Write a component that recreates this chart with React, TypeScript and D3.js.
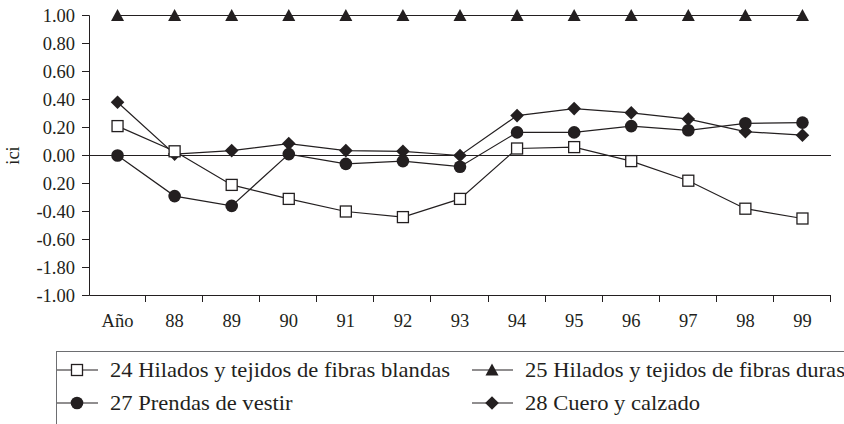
import React from 'react';
import * as d3 from 'd3';

// categories on the x axis
const years = ['Año', '88', '89', '90', '91', '92', '93', '94', '95', '96', '97', '98', '99'];

// series values (ici)
const fibrasBlandas = [0.21, 0.03, -0.21, -0.31, -0.40, -0.44, -0.31, 0.05, 0.06, -0.04, -0.18, -0.38, -0.45];
const fibrasDuras = [1.00, 1.00, 1.00, 1.00, 1.00, 1.00, 1.00, 1.00, 1.00, 1.00, 1.00, 1.00, 1.00];
const prendas = [0.00, -0.29, -0.36, 0.01, -0.06, -0.04, -0.08, 0.165, 0.165, 0.21, 0.18, 0.23, 0.235];
const cuero = [0.38, 0.01, 0.035, 0.085, 0.035, 0.03, 0.00, 0.285, 0.335, 0.305, 0.26, 0.17, 0.145];

// y ticks and their printed labels (as in the original figure)
const yTickValues = [1.0, 0.8, 0.6, 0.4, 0.2, 0.0, -0.2, -0.4, -0.6, -0.8, -1.0];
const yTickLabels = ['1.00', '0.80', '0.60', '0.40', '0.20', '0.00', '0.20', '-0.40', '-0.60', '-1.80', '-1.00'];

const seriesNames = [
  '24 Hilados y tejidos de fibras blandas',
  '25 Hilados y tejidos de fibras duras',
  '27 Prendas de vestir',
  '28 Cuero y calzado',
];

const ink = '#231f20';
const font = "'Liberation Serif', 'Times New Roman', Times, serif";

type Shape = 'square' | 'triangle' | 'circle' | 'diamond';

const Marker = ({ shape, x, y }: { shape: Shape; x: number; y: number }) => {
  if (shape === 'square')
    return <rect x={x - 5.5} y={y - 5.5} width={11} height={11} fill="#fff" stroke={ink} strokeWidth={1.3} />;
  if (shape === 'circle') return <circle cx={x} cy={y} r={6.3} fill={ink} />;
  if (shape === 'triangle')
    return <path d={`M${x},${y - 6.5}L${x + 6.5},${y + 5.5}L${x - 6.5},${y + 5.5}Z`} fill={ink} />;
  return <path d={`M${x},${y - 6.8}L${x + 6.8},${y}L${x},${y + 6.8}L${x - 6.8},${y}Z`} fill={ink} />;
};

const App = () => {
  const width = 844, height = 424;

  const x = d3.scaleBand<string>().domain(years).range([89, 831]).padding(0);
  const y = d3.scaleLinear().domain([-1, 1]).range([295.5, 15.5]);
  const cx = (d: string) => (x(d) as number) + x.bandwidth() / 2;

  const line = d3
    .line<number>()
    .x((_, i) => cx(years[i]))
    .y((v) => y(v));

  // draw order: later ones sit on top
  const series: { values: number[]; shape: Shape }[] = [
    { values: cuero, shape: 'diamond' },
    { values: prendas, shape: 'circle' },
    { values: fibrasDuras, shape: 'triangle' },
    { values: fibrasBlandas, shape: 'square' },
  ];

  const legend: { name: string; shape: Shape; lx: number; ly: number }[] = [
    { name: seriesNames[0], shape: 'square', lx: 77, ly: 370 },
    { name: seriesNames[1], shape: 'triangle', lx: 492, ly: 370 },
    { name: seriesNames[2], shape: 'circle', lx: 77, ly: 403 },
    { name: seriesNames[3], shape: 'diamond', lx: 492, ly: 403 },
  ];

  return (
    <svg
      width={width}
      height={height}
      style={{ position: 'absolute', left: 0, top: 0, background: '#fff', fontFamily: font }}
    >
      {/* y axis */}
      <line x1={89.5} x2={89.5} y1={y(1)} y2={295.5} stroke={ink} />
      {yTickValues.map((v, i) => (
        <g key={i}>
          <line x1={82} x2={89.5} y1={y(v)} y2={y(v)} stroke={ink} />
          <text x={75} y={y(v)} dy="0.33em" textAnchor="end" fontSize={18.5} fill={ink}>
            {yTickLabels[i]}
          </text>
        </g>
      ))}
      <text
        transform={`translate(19,${y(0)}) rotate(-90)`}
        textAnchor="middle"
        fontSize={18.5}
        fill={ink}
      >
        ici
      </text>

      {/* x axis */}
      <line x1={89.5} x2={831} y1={295.5} y2={295.5} stroke={ink} />
      {years.map((d) => (
        <g key={d}>
          <line
            x1={Math.round((x(d) as number) + x.bandwidth()) - 0.5}
            x2={Math.round((x(d) as number) + x.bandwidth()) - 0.5}
            y1={295.5}
            y2={302}
            stroke={ink}
          />
          <text x={cx(d)} y={327} textAnchor="middle" fontSize={18.5} fill={ink}>
            {d}
          </text>
        </g>
      ))}

      {/* zero line */}
      <line x1={89.5} x2={831} y1={y(0)} y2={y(0)} stroke={ink} />

      {/* series lines */}
      {series.map((s, i) => (
        <path key={i} d={line(s.values) || ''} fill="none" stroke={ink} strokeWidth={1.2} />
      ))}
      {/* markers */}
      {series.map((s, i) => (
        <g key={i}>
          {s.values.map((v, j) => (
            <Marker key={j} shape={s.shape} x={cx(years[j])} y={y(v)} />
          ))}
        </g>
      ))}

      {/* legend */}
      <rect x={56.5} y={351.5} width={820} height={100} fill="none" stroke="#6d6e71" />
      {legend.map((l) => (
        <g key={l.name}>
          <line x1={l.lx - 20} x2={l.lx + 21} y1={l.ly} y2={l.ly} stroke={ink} strokeWidth={1.2} />
          <Marker shape={l.shape} x={l.lx} y={l.ly} />
          <text
            transform={`translate(${l.lx + 33},${l.ly}) scale(1.13,1)`}
            dy="0.33em"
            fontSize={20}
            fill={ink}
          >
            {l.name}
          </text>
        </g>
      ))}
    </svg>
  );
};

export default App;
